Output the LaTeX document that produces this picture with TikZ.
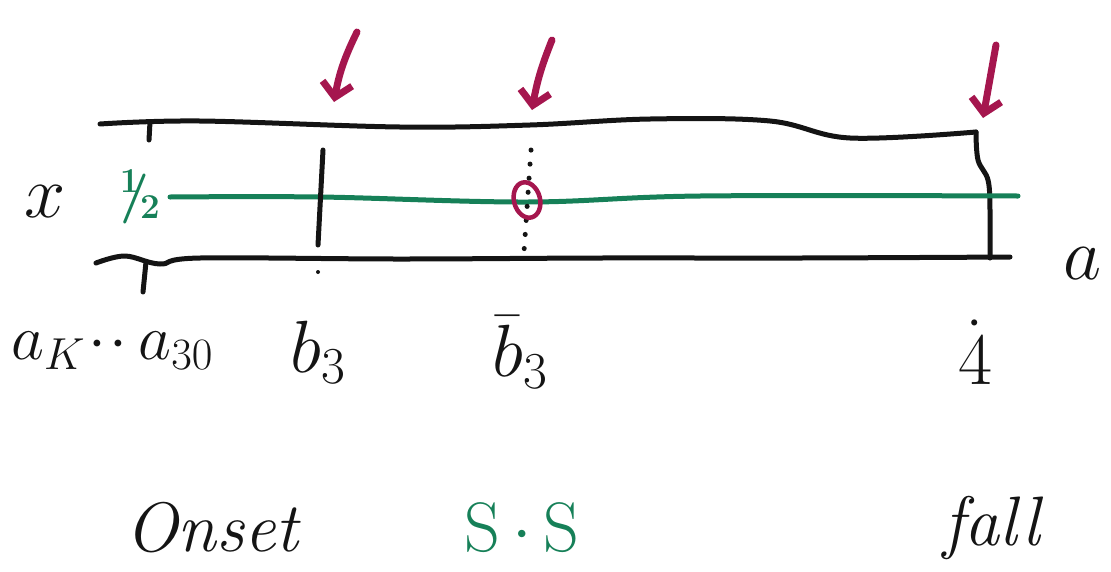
\RequirePackage{fix-cm}
\documentclass[tikz,border=0pt]{standalone}
\usetikzlibrary{arrows.meta}
\definecolor{ink}{RGB}{20,20,20}
\definecolor{penred}{RGB}{165,22,78}
\definecolor{pengreen}{RGB}{22,128,88}
\tikzset{
  stroke/.style={draw=ink, line width=5pt, line cap=round, line join=round},
  greenstroke/.style={draw=pengreen, line width=5pt, line cap=round},
  marker/.style={draw=penred, line width=7pt, line cap=round,
    -{Straight Barb[length=14pt,width=30pt,line width=7pt]}},
  label/.style={inner sep=0pt, text=ink, font=\fontsize{74}{78}\selectfont},
  word/.style={inner sep=0pt, text=ink, font=\fontsize{70}{74}\selectfont\itshape},
}
\begin{document}
\begin{tikzpicture}[x=1pt, y=-1pt]
\useasboundingbox (0,0) rectangle (1111,571);
% the strip: upper and lower edges, closed end on the right
\draw[stroke] plot[smooth, tension=0.6] coordinates
  {(100,124) (200,121) (400,127) (530,125) (650,119) (770,121) (850,138) (976,132)};
\draw[stroke] plot[smooth, tension=0.6] coordinates
  {(976,132) (978,160) (988,180) (990,210) (990,258)};
\draw[stroke] plot[smooth, tension=0.6] coordinates
  {(96,263) (125,256) (160,264) (200,258) (400,259) (600,258) (800,258) (1010,257)};
% small ticks at the left end
\draw[stroke] (150,122) -- (149,140);
\draw[stroke] (146,262) -- (143,292);
% the green middle line
\node[inner sep=0pt, text=pengreen, font=\fontsize{50}{50}\selectfont\boldmath] (half) at (140,197) {$^1\!\!/\!_2$};
\draw[greenstroke] plot[smooth, tension=0.6] coordinates
  {(170,197) (320,197) (527,202) (700,196) (1018,196)};
% marks across the strip
\draw[stroke] (323,150) -- (318,245);
\fill[ink] (318,272) circle (2pt);
\draw[draw=ink, line width=5pt, line cap=round, dash pattern=on 0.1pt off 14pt]
  (531,150) -- (524,252);
\draw[draw=penred, line width=4.5pt, rotate around={15:(527,200)}]
  (527,200) ellipse (13pt and 18pt);
% arrows from above
\coordinate (s1) at (357,32);
\coordinate (t1) at (334,102);
\coordinate (s2) at (552,40);
\coordinate (t2) at (532,110);
\coordinate (s3) at (996,45);
\coordinate (t3) at (983,118);
\draw[marker] (s1) to[bend right=8] (t1);
\draw[marker] (s2) to[bend right=6] (t2);
\draw[marker] (s3) -- (t3);
% side letters
\node[label] (xl) at (45,202) {$x$};
\node[label] (al) at (1083,264) {$a$};
% labels under the strip
\node[label, font=\fontsize{64}{68}\selectfont] (ak) at (112,350) {$a_K\!\cdot\!\cdot\,a_{30}$};
\node[label] (b3) at (318,352) {$b_3$};
\node[label] (b3bar) at (520,352) {$\bar{b}_3$};
\node[label] (four) at (975,352) {$\dot{4}$};
% words at the bottom
\node[word, text=pengreen, font=\fontsize{70}{74}\selectfont\upshape] (ss) at (522,528) {S\,$\cdot$\,S};
\node[word] (onset) at (212,528) {Onset};
\node[word] (fall) at (992,528) {fall};
\end{tikzpicture}
\end{document}
